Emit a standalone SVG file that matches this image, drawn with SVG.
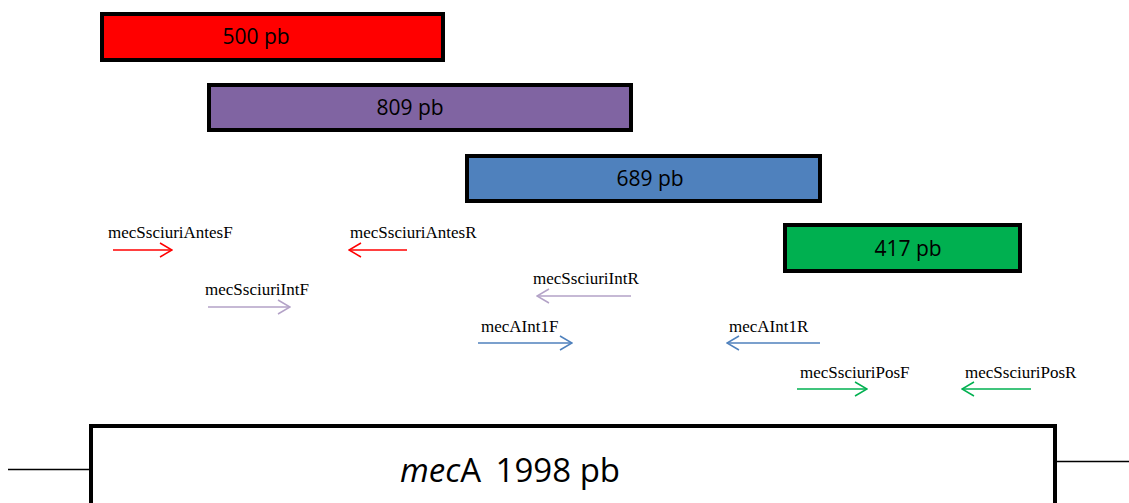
<svg xmlns="http://www.w3.org/2000/svg" width="1129" height="503" viewBox="0 0 1129 503">
<style>
.bar{stroke:#000;stroke-width:4}
.bl{font-family:"Open Sans","Liberation Sans",sans-serif;font-size:21px;fill:#000;text-anchor:middle}
.pl{font-family:"Liberation Serif","Times New Roman",serif;font-size:17px;fill:#000}
.ar{fill:none;stroke-width:1.5}
.red{stroke:#FF0000}.lav{stroke:#B3A2C7}.blu{stroke:#4F81BD}.grn{stroke:#00B050}
</style>
<defs>
<marker id="mRed" viewBox="0 0 14 16" refX="13" refY="8" markerWidth="14" markerHeight="16" markerUnits="userSpaceOnUse" orient="auto"><path d="M1,1 L13,8 L1,15" fill="none" stroke="#FF0000" stroke-width="1.5"/></marker>
<marker id="mLav" viewBox="0 0 14 16" refX="13" refY="8" markerWidth="14" markerHeight="16" markerUnits="userSpaceOnUse" orient="auto"><path d="M1,1 L13,8 L1,15" fill="none" stroke="#B3A2C7" stroke-width="1.5"/></marker>
<marker id="mBlu" viewBox="0 0 14 16" refX="13" refY="8" markerWidth="14" markerHeight="16" markerUnits="userSpaceOnUse" orient="auto"><path d="M1,1 L13,8 L1,15" fill="none" stroke="#4F81BD" stroke-width="1.5"/></marker>
<marker id="mGrn" viewBox="0 0 14 16" refX="13" refY="8" markerWidth="14" markerHeight="16" markerUnits="userSpaceOnUse" orient="auto"><path d="M1,1 L13,8 L1,15" fill="none" stroke="#00B050" stroke-width="1.5"/></marker>
</defs>
<rect width="1129" height="503" fill="#fff"/>
<g id="connectors">
<line x1="8" y1="469.5" x2="91" y2="469.5" stroke="#000" stroke-width="1.5"/>
<line x1="1055" y1="461.5" x2="1129" y2="461.5" stroke="#000" stroke-width="1.5"/>
</g>
<g id="bar500"><rect class="bar" x="102" y="14" width="341" height="46" fill="#FF0000"/><text class="bl" x="256" y="44">500 pb</text></g>
<g id="bar809"><rect class="bar" x="209" y="85" width="422" height="45" fill="#8064A2"/><text class="bl" x="410" y="115">809 pb</text></g>
<g id="bar689"><rect class="bar" x="467" y="156" width="353" height="45" fill="#4F81BD"/><text class="bl" x="650" y="186">689 pb</text></g>
<g id="bar417"><rect class="bar" x="785" y="225" width="235" height="46" fill="#00B050"/><text class="bl" x="908" y="256">417 pb</text></g>
<g id="mecA"><rect class="bar" x="91" y="426" width="964" height="100" fill="#fff"/><text x="510" y="482" font-family="'Open Sans','Liberation Sans',sans-serif" font-size="33" text-anchor="middle" fill="#000"><tspan font-style="italic">mec</tspan>A<tspan dx="6"> 1998 pb</tspan></text></g>
<g id="pAntesF"><text class="pl" x="108" y="238">mecSsciuriAntesF</text><line class="ar red" x1="113" y1="250" x2="172" y2="250" marker-end="url(#mRed)"/></g>
<g id="pAntesR"><text class="pl" x="350" y="238">mecSsciuriAntesR</text><line class="ar red" x1="407" y1="250" x2="349" y2="250" marker-end="url(#mRed)"/></g>
<g id="pIntF"><text class="pl" x="205" y="295">mecSsciuriIntF</text><line class="ar lav" x1="208" y1="307" x2="290" y2="307" marker-end="url(#mLav)"/></g>
<g id="pIntR"><text class="pl" x="533" y="284">mecSsciuriIntR</text><line class="ar lav" x1="631" y1="296" x2="537" y2="296" marker-end="url(#mLav)"/></g>
<g id="pInt1F"><text class="pl" x="481" y="332">mecAInt1F</text><line class="ar blu" x1="478" y1="343" x2="572" y2="343" marker-end="url(#mBlu)"/></g>
<g id="pInt1R"><text class="pl" x="729" y="332">mecAInt1R</text><line class="ar blu" x1="820" y1="343" x2="727" y2="343" marker-end="url(#mBlu)"/></g>
<g id="pPosF"><text class="pl" x="800" y="378">mecSsciuriPosF</text><line class="ar grn" x1="797" y1="389" x2="867" y2="389" marker-end="url(#mGrn)"/></g>
<g id="pPosR"><text class="pl" x="965" y="378">mecSsciuriPosR</text><line class="ar grn" x1="1031" y1="389" x2="962" y2="389" marker-end="url(#mGrn)"/></g>
</svg>
